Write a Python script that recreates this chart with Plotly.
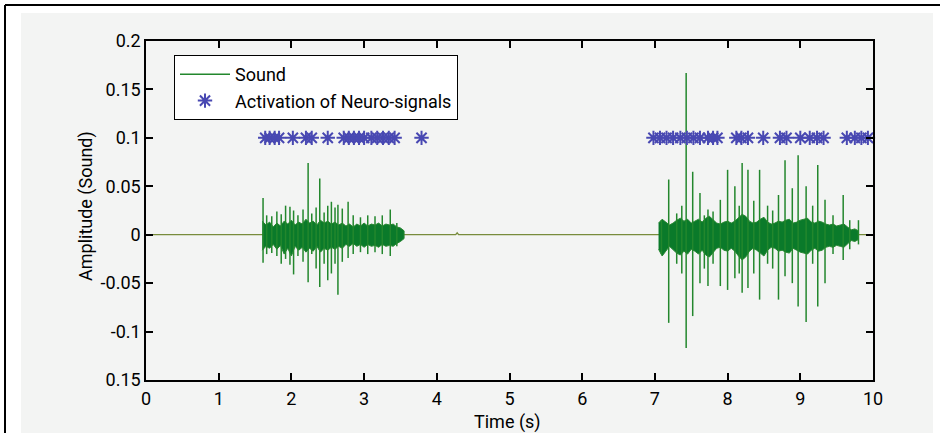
import plotly.graph_objects as go

# ---------------- data ----------------
# envelope of the dense part of the sound signal: times (s) with upper / lower amplitudes
band1_t = [1.60, 1.65, 1.70, 1.75, 1.80, 1.85, 1.90, 1.95, 2.00, 2.05,
           2.10, 2.15, 2.20, 2.25, 2.30, 2.35, 2.40, 2.45, 2.50, 2.55,
           2.60, 2.65, 2.70, 2.75, 2.80, 2.85, 2.90, 2.95, 3.00, 3.05,
           3.10, 3.15, 3.20, 3.25, 3.30, 3.35, 3.40, 3.45, 3.50, 3.55]
band1_hi = [0.014, 0.010, 0.013, 0.008, 0.012, 0.009, 0.014, 0.011, 0.015, 0.010,
            0.013, 0.011, 0.016, 0.012, 0.014, 0.010, 0.015, 0.012, 0.014, 0.011,
            0.013, 0.010, 0.012, 0.009, 0.011, 0.008, 0.011, 0.009, 0.012, 0.009,
            0.011, 0.010, 0.012, 0.009, 0.011, 0.010, 0.011, 0.008, 0.007, 0.004]
band1_lo = [-0.016, -0.012, -0.014, -0.010, -0.015, -0.011, -0.020, -0.014, -0.022, -0.012,
            -0.016, -0.013, -0.018, -0.014, -0.017, -0.012, -0.018, -0.014, -0.016, -0.013,
            -0.015, -0.012, -0.014, -0.010, -0.012, -0.009, -0.012, -0.010, -0.013, -0.010,
            -0.012, -0.011, -0.013, -0.010, -0.012, -0.011, -0.012, -0.009, -0.007, -0.004]

band2_t = [7.05, 7.10, 7.15, 7.20, 7.25, 7.30, 7.35, 7.40, 7.45, 7.50,
           7.55, 7.60, 7.65, 7.70, 7.75, 7.80, 7.85, 7.90, 7.95, 8.00,
           8.05, 8.10, 8.15, 8.20, 8.25, 8.30, 8.35, 8.40, 8.45, 8.50,
           8.55, 8.60, 8.65, 8.70, 8.75, 8.80, 8.85, 8.90, 8.95, 9.00,
           9.05, 9.10, 9.15, 9.20, 9.25, 9.30, 9.35, 9.40, 9.45, 9.50,
           9.55, 9.60, 9.65, 9.70, 9.75, 9.80]
band2_hi = [0.012, 0.016, 0.013, 0.010, 0.012, 0.015, 0.017, 0.014, 0.016, 0.012,
            0.014, 0.016, 0.013, 0.017, 0.019, 0.015, 0.012, 0.011, 0.013, 0.014,
            0.012, 0.014, 0.018, 0.021, 0.019, 0.014, 0.012, 0.013, 0.016, 0.018,
            0.013, 0.011, 0.012, 0.014, 0.013, 0.015, 0.016, 0.012, 0.013, 0.015,
            0.016, 0.017, 0.013, 0.012, 0.014, 0.013, 0.011, 0.010, 0.011, 0.009,
            0.010, 0.011, 0.008, 0.005, 0.006, 0.004]
band2_lo = [-0.015, -0.022, -0.017, -0.012, -0.015, -0.019, -0.021, -0.017, -0.020, -0.015,
            -0.017, -0.020, -0.016, -0.021, -0.023, -0.018, -0.014, -0.013, -0.016, -0.017,
            -0.014, -0.017, -0.022, -0.026, -0.023, -0.017, -0.014, -0.016, -0.019, -0.022,
            -0.016, -0.013, -0.014, -0.017, -0.016, -0.018, -0.019, -0.014, -0.016, -0.018,
            -0.019, -0.020, -0.016, -0.014, -0.017, -0.016, -0.013, -0.012, -0.013, -0.011,
            -0.012, -0.013, -0.010, -0.006, -0.007, -0.005]

# quiet stretches (time s) where the signal sits on zero, plus a tiny blip near 4.28 s
quiet_t = [0.0, 1.59, 3.58, 4.26, 4.28, 4.30, 7.03, 9.85, 10.0]
quiet_a = [0.0, 0.0, 0.0, 0.0, 0.002, 0.0, 0.0, 0.0, 0.0]

# individual sound spikes (time s, peak up, peak down)
spike_t = [1.61, 1.66, 1.73, 1.80, 1.86, 1.92, 1.98, 2.03, 2.09, 2.16, 2.23, 2.28, 2.34, 2.39,
           2.45, 2.50, 2.55, 2.60, 2.64, 2.70, 2.78, 2.85, 2.95, 3.05, 3.15, 3.25, 3.36, 3.45,
           7.09, 7.19, 7.30, 7.37, 7.43, 7.52, 7.62, 7.68, 7.73, 7.80, 7.90, 8.00, 8.10, 8.16,
           8.20, 8.28, 8.36, 8.44, 8.55, 8.62, 8.70, 8.79, 8.89, 8.97, 9.08, 9.17, 9.24, 9.34,
           9.45, 9.59, 9.68, 9.80]
spike_up = [0.038, 0.020, 0.019, 0.024, 0.021, 0.030, 0.029, 0.025, 0.020, 0.026, 0.074, 0.022, 0.028, 0.058,
            0.023, 0.030, 0.034, 0.028, 0.031, 0.027, 0.034, 0.020, 0.018, 0.020, 0.019, 0.020, 0.026, 0.012,
            0.015, 0.057, 0.022, 0.030, 0.167, 0.065, 0.043, 0.020, 0.026, 0.024, 0.036, 0.067, 0.050, 0.030,
            0.074, 0.067, 0.035, 0.067, 0.030, 0.025, 0.041, 0.077, 0.048, 0.082, 0.050, 0.030, 0.072, 0.036,
            0.020, 0.041, 0.015, 0.015]
spike_dn = [-0.029, -0.020, -0.019, -0.022, -0.030, -0.025, -0.031, -0.041, -0.022, -0.028, -0.049, -0.020, -0.035, -0.054,
            -0.030, -0.047, -0.040, -0.030, -0.062, -0.028, -0.024, -0.020, -0.018, -0.020, -0.018, -0.020, -0.022, -0.012,
            -0.020, -0.091, -0.030, -0.040, -0.117, -0.084, -0.050, -0.035, -0.053, -0.030, -0.053, -0.057, -0.045, -0.040,
            -0.060, -0.055, -0.040, -0.067, -0.030, -0.035, -0.067, -0.043, -0.050, -0.074, -0.090, -0.030, -0.074, -0.050,
            -0.020, -0.026, -0.015, -0.010]

# activation of neuro-signals (time s), all drawn at 0.1
neuro_t = [1.64, 1.70, 1.77, 1.83, 2.02, 2.20, 2.28, 2.50, 2.72, 2.79, 2.86, 2.93, 3.00,
           3.10, 3.18, 3.26, 3.34, 3.42, 3.79,
           6.98, 7.07, 7.16, 7.25, 7.35, 7.44, 7.53, 7.62, 7.73, 7.80, 7.86,
           8.12, 8.19, 8.28, 8.49, 8.72, 8.81, 9.00, 9.13, 9.23, 9.32, 9.64, 9.75, 9.84, 9.93]
neuro_level = 0.1

x_ticks = [0, 1, 2, 3, 4, 5, 6, 7, 8, 9, 10]
y_ticks = [0.2, 0.15, 0.1, 0.05, 0, -0.05, -0.1, -0.15]
y_ticktext = ["0.2", "0.15", "0.1", "0.05", "0", "-0.05", "-0.1", "0.15"]

# ---------------- figure ----------------
FONT = "Roboto, Liberation Sans, sans-serif"
FS = 18
GREEN = "rgb(35,135,45)"
BAND = "rgb(10,122,42)"
BLUE = "rgb(72,72,178)"

fig = go.Figure()

# zero baseline through the quiet parts
fig.add_trace(go.Scatter(x=quiet_t, y=quiet_a, mode="lines",
                         line=dict(color="rgb(120,140,60)", width=1.3),
                         showlegend=False, hoverinfo="skip"))

# dense envelopes of the two bursts
for bt, bh, bl in [(band1_t, band1_hi, band1_lo), (band2_t, band2_hi, band2_lo)]:
    fig.add_trace(go.Scatter(x=bt + bt[::-1], y=bh + bl[::-1], mode="lines", fill="toself",
                             fillcolor=BAND, line=dict(color="rgb(40,135,50)", width=1),
                             showlegend=False, hoverinfo="skip"))

sx, sy = [], []
for t, u, d in zip(spike_t, spike_up, spike_dn):
    sx += [t, t, None]
    sy += [d, u, None]
fig.add_trace(go.Scatter(x=sx, y=sy, mode="lines", name="Sound",
                         line=dict(color=GREEN, width=1.5)))

fig.add_trace(go.Scatter(x=neuro_t, y=[neuro_level] * len(neuro_t), mode="markers",
                         name="Activation of Neuro-signals", cliponaxis=False,
                         marker=dict(symbol="asterisk-open", size=12, color=BLUE,
                                     line=dict(color=BLUE, width=2))))

W, H = 940, 433
L, R, T, B = 146, 67, 41, 53
pw, ph = W - L - R, H - T - B

def px(xp):
    return (xp - L) / pw

def py(yp):
    return (H - B - yp) / ph

shapes = [
    dict(type="rect", xref="paper", yref="paper", x0=px(21), x1=px(933), y0=py(433), y1=py(13),
         fillcolor="rgb(243,244,243)", line=dict(width=0), layer="below"),
    dict(type="line", xref="paper", yref="paper", x0=px(5), x1=px(945), y0=py(5), y1=py(5),
         line=dict(color="black", width=2)),
    dict(type="line", xref="paper", yref="paper", x0=px(5), x1=px(5), y0=py(5), y1=py(440),
         line=dict(color="black", width=2)),
]

annotations = [
    dict(text="Time (s)", xref="paper", yref="paper", x=px(507), y=py(422),
         xanchor="center", yanchor="middle", showarrow=False,
         font=dict(family=FONT, size=FS, color="black")),
    dict(text="Amplitude (Sound)", xref="paper", yref="paper", x=px(86), y=py(206),
         xanchor="center", yanchor="middle", showarrow=False, textangle=-90,
         font=dict(family=FONT, size=FS, color="black")),
]

axis_common = dict(showline=True, linecolor="black", linewidth=1.5, mirror="ticks",
                   ticks="inside", ticklen=7, tickwidth=1.5, tickcolor="black",
                   showgrid=False, zeroline=False,
                   tickfont=dict(family=FONT, size=FS, color="black"))

fig.update_layout(
    width=W, height=H,
    margin=dict(l=L, r=R, t=T, b=B),
    paper_bgcolor="white", plot_bgcolor="rgb(252,252,252)",
    shapes=shapes, annotations=annotations,
    font=dict(family=FONT, size=FS, color="black"),
    xaxis=dict(range=[0, 10], tickvals=x_ticks, ticktext=[str(v) for v in x_ticks],
               ticklabelstandoff=2, **axis_common),
    yaxis=dict(range=[-0.15, 0.2], tickvals=y_ticks, ticktext=y_ticktext,
               **axis_common),
    legend=dict(x=px(174), y=py(55), xanchor="left", yanchor="top",
                bgcolor="white", bordercolor="black", borderwidth=1,
                font=dict(family=FONT, size=FS, color="black"),
                itemwidth=50, tracegroupgap=0),
    showlegend=True,
)

fig.write_html("out.html", config={"displayModeBar": False},
               post_script="document.body.style.margin='0px';document.body.style.overflow='hidden';")
